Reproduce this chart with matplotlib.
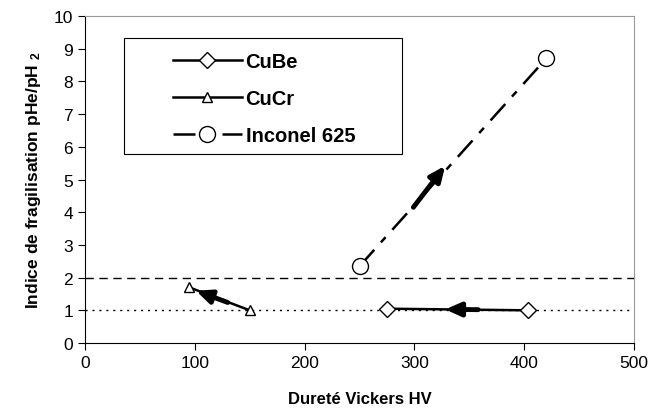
from matplotlib import pyplot as plt
from matplotlib.patches import Rectangle

plt.rcParams['font.family'] = ['Liberation Sans', 'DejaVu Sans']
plt.rcParams['mathtext.default'] = 'regular'

# hardness (HV) vs embrittlement index pHe/pH2
cube_hv = [275, 403]
cube_idx = [1.05, 1.0]
cucr_hv = [95, 150]
cucr_idx = [1.7, 1.0]
inco_hv = [250, 420]
inco_idx = [2.35, 8.7]

# direction arrows (tail -> head)
arrows = [((358, 1.02), (328, 1.03)),
          ((130, 1.24), (101, 1.60)),
          ((299, 4.15), (328, 5.42))]

fig = plt.figure(figsize=(6.49, 4.14), dpi=100)
ax = fig.add_axes([0.131, 0.169, 0.846, 0.790])

ax.axhline(2, color='black', lw=1, ls=(0, (6, 4)))
ax.axhline(1, color='black', lw=1, ls=(0, (1.5, 3.5)))

ax.plot(cube_hv, cube_idx, color='black', lw=1.8, marker='D', ms=8.5,
        mfc='white', mec='black', mew=1, label='CuBe')
ax.plot(cucr_hv, cucr_idx, color='black', lw=1.8, marker='^', ms=7.5,
        mfc='white', mec='black', mew=1, label='CuCr')
ax.plot(inco_hv, inco_idx, color='black', lw=1.8, ls=(0, (8.8, 4, 2.8, 4)),
        marker='o', ms=11.5, mfc='white', mec='black', mew=1, label='Inconel 625')

for tail, head in arrows:
    ax.annotate('', xy=head, xytext=tail,
                arrowprops=dict(arrowstyle='-|>,head_length=0.9,head_width=0.4',
                                color='black', lw=3.5, shrinkA=0, shrinkB=0))

ax.set_xlim(0, 500)
ax.set_ylim(0, 10)
ax.set_xticks(range(0, 501, 100))
ax.set_yticks(range(0, 11, 1))
ax.tick_params(direction='out', length=5, labelsize=12.5, color='black')
for s in ['left', 'bottom']:
    ax.spines[s].set_color('black')
for s in ['top', 'right']:
    ax.spines[s].set_color('#999999')

ax.set_xlabel('Dureté Vickers HV', fontsize=12, fontweight='bold', labelpad=15)
ax.set_ylabel('Indice de fragilisation pHe/pH $_{2}$', fontsize=12.5,
              fontweight='bold', labelpad=8)

# legend entries without frame, box drawn separately (wide left margin)
leg = ax.legend(loc='upper left', bbox_to_anchor=(0.12, 0.957), frameon=False,
                handlelength=3.4, labelspacing=0.88, borderpad=0.6,
                handletextpad=0.2, prop={'weight': 'bold', 'size': 14.5})
box = Rectangle((124 / 649, 1 - 155 / 414), (402 - 124) / 649, (155 - 39) / 414,
                transform=fig.transFigure, fill=True, facecolor='white',
                edgecolor='black', lw=0.8, zorder=4)
ax.add_patch(box)
box.set_clip_on(False)
leg.set_zorder(5)

plt.savefig('out.png', dpi=100)
